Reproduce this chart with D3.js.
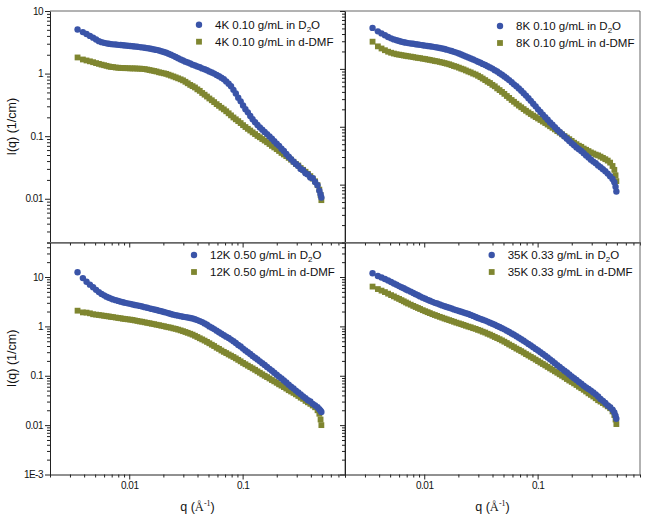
<!DOCTYPE html>
<html><head><meta charset="utf-8">
<script src="https://cdn.jsdelivr.net/npm/d3@7"></script>
<style>body{margin:0;background:#fff}svg{display:block}text{font-family:"Liberation Sans",Arial,sans-serif}</style>
</head><body>
<script>
// ---------- DATA ----------
const q = [
0.0035,0.0039,0.0042,0.0045,0.0048,0.0051,0.0054,0.0057,0.0060,0.0063,
0.0066,0.0069,0.0072,0.0076,0.0080,0.0084,0.0088,0.0092,0.0097,0.0102,
0.0107,0.0112,0.0118,0.0124,0.0130,0.0137,0.0144,0.0151,0.0158,0.0166,
0.0174,0.0183,0.0192,0.0202,0.0212,0.0222,0.0233,0.0245,0.0257,0.0270,
0.0284,0.0298,0.0313,0.0328,0.0345,0.0362,0.0380,0.0399,0.0419,0.0440,
0.0462,0.0485,0.0509,0.0535,0.0561,0.0590,0.0619,0.0650,0.0683,0.0717,
0.0753,0.0790,0.0830,0.0871,0.0915,0.0961,0.1009,0.1059,0.1112,0.1168,
0.1226,0.1288,0.1352,0.1420,0.1491,0.1565,0.1643,0.1726,0.1812,0.1902,
0.1998,0.2097,0.2202,0.2312,0.2428,0.2550,0.2677,0.2811,0.2952,0.3099,
0.3254,0.3417,0.3588,0.3767,0.3956,0.4153,0.4361,0.4579,0.4750,0.4870,
0.4950];

const k4_D2O = [
5.05,4.6,4.3,4.0,3.75,3.5,3.3,3.18,3.1,3.04,
2.99,2.96,2.93,2.91,2.88,2.86,2.84,2.81,2.79,2.76,
2.74,2.71,2.69,2.65,2.62,2.58,2.55,2.51,2.47,2.43,
2.39,2.34,2.28,2.21,2.15,2.08,2.00,1.92,1.84,1.76,
1.68,1.62,1.55,1.50,1.45,1.39,1.35,1.30,1.26,1.21,
1.17,1.13,1.08,1.04,1.00,0.95,0.91,0.86,0.81,0.75,
0.69,0.63,0.55,0.48,0.41,0.36,0.31,0.27,0.24,0.21,
0.186,0.167,0.151,0.138,0.127,0.117,0.108,0.099,0.091,0.083,
0.076,0.070,0.063,0.058,0.052,0.047,0.043,0.039,0.036,0.0335,
0.030,0.0285,0.0255,0.0245,0.0218,0.0213,0.0185,0.0165,0.0135,0.0118,
0.0105];
const k4_DMF = [
1.81,1.68,1.62,1.57,1.52,1.47,1.43,1.39,1.36,1.33,
1.30,1.28,1.27,1.25,1.24,1.23,1.23,1.22,1.22,1.21,
1.21,1.21,1.20,1.20,1.19,1.18,1.16,1.14,1.12,1.10,
1.08,1.05,1.03,1.01,0.99,0.96,0.93,0.90,0.87,0.84,
0.81,0.78,0.74,0.70,0.66,0.63,0.60,0.56,0.53,0.49,
0.46,0.43,0.40,0.375,0.35,0.325,0.305,0.285,0.268,0.25,
0.232,0.215,0.199,0.186,0.174,0.162,0.150,0.140,0.131,0.123,
0.115,0.108,0.101,0.096,0.090,0.085,0.080,0.075,0.070,0.066,
0.062,0.058,0.054,0.051,0.048,0.045,0.042,0.039,0.036,0.034,
0.031,0.029,0.027,0.025,0.023,0.021,0.019,0.0165,0.014,0.0115,
0.0095];
const k8_D2O = [
5.1,4.45,4.1,3.8,3.55,3.37,3.23,3.12,3.03,2.95,
2.89,2.84,2.79,2.75,2.71,2.67,2.63,2.60,2.56,2.52,
2.49,2.46,2.42,2.38,2.34,2.29,2.25,2.20,2.15,2.09,
2.04,1.97,1.91,1.84,1.77,1.70,1.64,1.57,1.51,1.45,
1.39,1.33,1.28,1.22,1.17,1.11,1.06,1.01,0.95,0.90,
0.84,0.79,0.74,0.69,0.64,0.59,0.54,0.50,0.46,0.42,
0.38,0.345,0.31,0.28,0.25,0.225,0.20,0.18,0.162,0.146,
0.132,0.119,0.108,0.098,0.089,0.081,0.074,0.068,0.062,0.057,
0.052,0.048,0.044,0.041,0.038,0.035,0.032,0.0295,0.027,0.025,
0.0235,0.0215,0.020,0.0185,0.017,0.0155,0.014,0.0125,0.011,0.0092,
0.0076];
const k8_DMF = [
2.95,2.45,2.25,2.1,1.98,1.9,1.84,1.79,1.76,1.73,
1.70,1.68,1.65,1.63,1.60,1.57,1.55,1.53,1.50,1.48,
1.45,1.43,1.40,1.37,1.35,1.32,1.29,1.26,1.23,1.20,
1.16,1.12,1.09,1.05,1.01,0.98,0.94,0.90,0.87,0.83,
0.80,0.76,0.72,0.68,0.64,0.60,0.57,0.53,0.50,0.46,
0.43,0.40,0.37,0.34,0.315,0.29,0.27,0.25,0.232,0.217,
0.202,0.189,0.177,0.166,0.156,0.147,0.139,0.131,0.123,0.116,
0.109,0.102,0.096,0.090,0.084,0.079,0.074,0.069,0.065,0.061,
0.057,0.053,0.050,0.047,0.045,0.042,0.040,0.038,0.036,0.0345,
0.033,0.032,0.0305,0.029,0.0275,0.026,0.024,0.021,0.018,0.0145,
0.0115];
const k12_D2O = [
12.5,9.5,8.0,7.0,6.2,5.5,4.95,4.55,4.25,4.0,
3.8,3.65,3.52,3.40,3.28,3.17,3.08,3.0,2.93,2.86,
2.79,2.72,2.66,2.60,2.53,2.45,2.38,2.32,2.26,2.20,
2.14,2.08,2.02,1.96,1.90,1.84,1.78,1.73,1.69,1.65,
1.61,1.57,1.54,1.51,1.48,1.44,1.39,1.34,1.28,1.22,
1.15,1.08,1.0,0.94,0.88,0.82,0.76,0.71,0.66,0.62,
0.58,0.54,0.50,0.46,0.42,0.39,0.355,0.325,0.30,0.275,
0.252,0.232,0.213,0.196,0.180,0.165,0.151,0.138,0.126,0.115,
0.105,0.096,0.088,0.080,0.073,0.066,0.060,0.055,0.050,0.046,
0.042,0.038,0.035,0.032,0.030,0.027,0.025,0.023,0.021,0.0195,
0.0185];
const k12_DMF = [
2.08,1.92,1.90,1.84,1.76,1.73,1.70,1.67,1.64,1.61,
1.59,1.56,1.54,1.51,1.48,1.46,1.43,1.41,1.39,1.37,
1.35,1.32,1.29,1.26,1.24,1.21,1.18,1.16,1.13,1.11,
1.08,1.06,1.03,1.01,0.98,0.96,0.94,0.91,0.89,0.86,
0.83,0.80,0.77,0.74,0.71,0.68,0.645,0.61,0.575,0.545,
0.515,0.485,0.455,0.425,0.40,0.37,0.35,0.325,0.305,0.288,
0.27,0.255,0.24,0.225,0.21,0.196,0.182,0.171,0.16,0.15,
0.141,0.132,0.123,0.115,0.107,0.100,0.094,0.088,0.082,0.077,
0.072,0.067,0.063,0.059,0.055,0.051,0.048,0.045,0.042,0.039,
0.036,0.034,0.031,0.029,0.027,0.025,0.023,0.020,0.017,0.013,
0.0100];
const k35_D2O = [
11.9,10.5,9.8,9.1,8.5,7.9,7.4,6.95,6.55,6.2,
5.9,5.6,5.35,5.05,4.75,4.5,4.28,4.05,3.82,3.62,
3.45,3.3,3.14,3.0,2.9,2.78,2.66,2.56,2.47,2.38,
2.30,2.21,2.13,2.05,1.98,1.91,1.85,1.78,1.71,1.63,
1.55,1.48,1.42,1.36,1.31,1.25,1.19,1.13,1.08,1.02,
0.97,0.92,0.87,0.82,0.77,0.72,0.68,0.63,0.59,0.55,
0.51,0.475,0.44,0.41,0.38,0.35,0.325,0.30,0.275,0.255,
0.235,0.215,0.197,0.18,0.164,0.150,0.138,0.126,0.116,0.106,
0.097,0.089,0.082,0.075,0.069,0.063,0.058,0.054,0.050,0.046,
0.042,0.038,0.034,0.031,0.028,0.025,0.023,0.0205,0.018,0.0155,
0.0135];
const k35_DMF = [
6.4,5.7,5.3,4.95,4.6,4.3,4.05,3.8,3.6,3.4,
3.22,3.05,2.9,2.75,2.6,2.47,2.36,2.25,2.13,2.03,
1.94,1.86,1.77,1.70,1.63,1.56,1.50,1.44,1.39,1.34,
1.29,1.24,1.19,1.15,1.11,1.07,1.03,0.99,0.96,0.92,
0.89,0.85,0.82,0.78,0.75,0.71,0.68,0.645,0.61,0.58,
0.55,0.52,0.49,0.46,0.43,0.405,0.38,0.355,0.335,0.315,
0.295,0.275,0.258,0.242,0.227,0.212,0.198,0.185,0.173,0.162,
0.151,0.141,0.132,0.123,0.115,0.107,0.100,0.093,0.086,0.080,
0.075,0.070,0.065,0.060,0.056,0.052,0.048,0.044,0.041,0.038,
0.035,0.032,0.030,0.028,0.026,0.024,0.022,0.019,0.016,0.013,
0.0105];

const sampleLabels = ["4K 0.10 g/mL", "8K 0.10 g/mL", "12K 0.50 g/mL", "35K 0.33 g/mL"];
const xDomain = [0.002, 0.8];
const xMajor = [0.01, 0.1];
const yDomains = [[0.002, 10], [0.001, 10], [0.001, 50], [0.001, 50]];
const yMajor = [0.001, 0.01, 0.1, 1, 10];
const yTickText = {0.001: "1E-3", 0.01: "0.01", 0.1: "0.1", 1: "1", 10: "10"};

// ---------- LAYOUT ----------
const W = 647, H = 518;
const colBlue = "#3a54a8", colOlive = "#7f8630";
const svg = d3.select("body").append("svg").attr("width", W).attr("height", H);

const panels = [
  {x0: 50, x1: 345, y0: 11, y1: 242.5, d2o: k4_D2O, dmf: k4_DMF, showY: true, showX: false, legX: 199, legY: 24.7},
  {x0: 345, x1: 640, y0: 11, y1: 242.5, d2o: k8_D2O, dmf: k8_DMF, showY: false, showX: false, legX: 500, legY: 26},
  {x0: 50, x1: 345, y0: 242.5, y1: 474.5, d2o: k12_D2O, dmf: k12_DMF, showY: true, showX: true, legX: 194, legY: 255},
  {x0: 345, x1: 640, y0: 242.5, y1: 474.5, d2o: k35_D2O, dmf: k35_DMF, showY: false, showX: true, legX: 491.7, legY: 255}
];

function minorsFor(dom) {
  const out = [];
  const lo = Math.floor(Math.log10(dom[0])), hi = Math.ceil(Math.log10(dom[1]));
  for (let e = lo; e < hi; e++) for (let m = 2; m <= 9; m++) {
    const v = m * Math.pow(10, e);
    if (v >= dom[0] * 0.999 && v <= dom[1] * 1.001) out.push(v);
  }
  return out;
}

panels.forEach((p, i) => {
  const x = d3.scaleLog().domain(xDomain).range([p.x0, p.x1]);
  const y = d3.scaleLog().domain(yDomains[i]).range([p.y1, p.y0]);
  const g = svg.append("g");

  // frame (top/right)
  g.append("line").attr("x1", p.x0).attr("x2", p.x1).attr("y1", p.y0).attr("y2", p.y0).attr("stroke", "#666").attr("stroke-width", 1);
  g.append("line").attr("x1", p.x1).attr("x2", p.x1).attr("y1", p.y0).attr("y2", p.y1).attr("stroke", "#666").attr("stroke-width", 1);

  // markers: DMF first, D2O on top
  g.append("g").selectAll("rect").data(q.map((v, j) => [v, p.dmf[j]])).join("rect")
    .attr("x", d => x(d[0]) - 2.9).attr("y", d => y(d[1]) - 2.9)
    .attr("width", 5.8).attr("height", 5.8).attr("fill", colOlive);
  g.append("g").selectAll("circle").data(q.map((v, j) => [v, p.d2o[j]])).join("circle")
    .attr("cx", d => x(d[0])).attr("cy", d => y(d[1])).attr("r", 3.2).attr("fill", colBlue);

  // y axis
  const yM = yMajor.filter(v => v >= yDomains[i][0] && v <= yDomains[i][1]);
  const ya = g.append("g").attr("transform", `translate(${p.x0},0)`)
    .call(d3.axisLeft(y).tickValues(yM).tickSize(5).tickSizeOuter(0)
      .tickFormat(p.showY ? (d => yTickText[d]) : ""));
  g.append("g").attr("transform", `translate(${p.x0},0)`)
    .call(d3.axisLeft(y).tickValues(minorsFor(yDomains[i])).tickSize(3).tickSizeOuter(0).tickFormat(""))
    .select(".domain").remove();

  // x axis
  const xa = g.append("g").attr("transform", `translate(0,${p.y1})`)
    .call(d3.axisBottom(x).tickValues(xMajor).tickSize(5).tickSizeOuter(0)
      .tickFormat(p.showX ? (d => d === 0.01 ? "0.01" : "0.1") : ""));
  g.append("g").attr("transform", `translate(0,${p.y1})`)
    .call(d3.axisBottom(x).tickValues(minorsFor(xDomain)).tickSize(3).tickSizeOuter(0).tickFormat(""))
    .select(".domain").remove();

  [ya, xa].forEach(a => {
    a.selectAll("text").attr("font-size", 10).attr("fill", "#111").attr("letter-spacing", "-0.5px")
      .attr("font-family", '"Liberation Sans", Arial, sans-serif');
  });
  g.selectAll(".domain").attr("stroke", "#222");
  g.selectAll(".tick line").attr("stroke", "#222");
  ya.selectAll("text").attr("x", -7);
  xa.selectAll("text").attr("y", 7);

  // legend
  const lg = g.append("g").attr("font-size", 11.5).attr("fill", "#111");
  lg.append("circle").attr("cx", p.legX).attr("cy", p.legY).attr("r", 3.2).attr("fill", colBlue);
  lg.append("rect").attr("x", p.legX - 2.9).attr("y", p.legY + 17 - 2.9).attr("width", 5.8).attr("height", 5.8).attr("fill", colOlive);
  const t1 = lg.append("text").attr("x", p.legX + 16).attr("y", p.legY + 4);
  t1.append("tspan").text(sampleLabels[i] + " in D");
  t1.append("tspan").attr("font-size", 8).attr("dy", 3).text("2");
  t1.append("tspan").attr("dy", -3).text("O");
  lg.append("text").attr("x", p.legX + 16).attr("y", p.legY + 21).text(sampleLabels[i] + " in d-DMF");

  // axis titles
  if (p.showY) {
    svg.append("text").attr("transform", `translate(16,${(p.y0 + p.y1) / 2}) rotate(-90)`)
      .attr("text-anchor", "middle").attr("font-size", 12.5).attr("fill", "#111").text("I(q) (1/cm)");
  }
  if (p.showX) {
    const t = svg.append("text").attr("x", (p.x0 + p.x1) / 2).attr("y", 511)
      .attr("text-anchor", "middle").attr("font-size", 12.5).attr("fill", "#111");
    t.append("tspan").text("q (");
    t.append("tspan").attr("font-family", '"Liberation Serif", serif').text("Å");
    t.append("tspan").attr("font-family", '"Liberation Serif", serif').attr("font-size", 8).attr("dy", -5).text("-1");
    t.append("tspan").attr("dy", 5).text(")");
  }
});
</script>
</body></html>
